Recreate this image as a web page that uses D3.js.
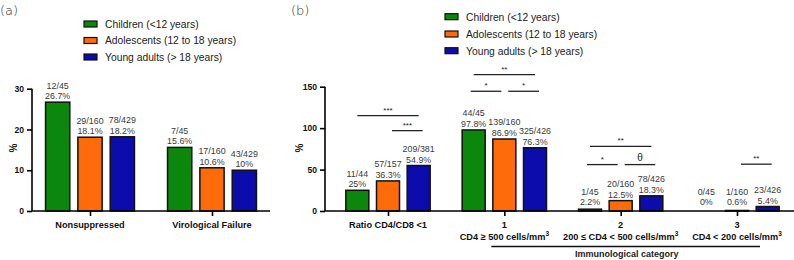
<!DOCTYPE html>
<html>
<head>
<meta charset="utf-8">
<script src="https://cdn.jsdelivr.net/npm/d3@7"></script>
<style>
  body { margin: 0; background: #fff; }
  svg { display: block; font-family: "Liberation Sans", Arial, sans-serif; }
</style>
</head>
<body>
<svg id="chart"></svg>
<script>
// ---- data ----
const groups = ["Children (<12 years)", "Adolescents (12 to 18 years)", "Young adults (> 18 years)"];
const groupColors = ["#0b870b", "#ff6a0a", "#0c0cad"];

// panel (a)
const catsA = ["Nonsuppressed", "Virological Failure"];
const valuesA = [[26.7, 18.1, 18.2], [15.6, 10.6, 10.0]];
const fracsA = [["12/45", "29/160", "78/429"], ["7/45", "17/160", "43/429"]];
const ticksA = [0, 10, 20, 30];

// panel (b)
const catsB = ["Ratio CD4/CD8 <1", "1", "2", "3"];
const subLabelsB = ["", "CD4 ≥ 500 cells/mm", "200  ≤ CD4 < 500 cells/mm", "CD4 < 200 cells/mm"];
const valuesB = [[25, 36.3, 54.9], [97.8, 86.9, 76.3], [2.2, 12.5, 18.3], [0, 0.6, 5.4]];
const fracsB = [["11/44", "57/157", "209/381"], ["44/45", "139/160", "325/426"],
                ["1/45", "20/160", "78/426"], ["0/45", "1/160", "23/426"]];
const pctB = [["25%", "36.3%", "54.9%"], ["97.8%", "86.9%", "76.3%"],
              ["2.2%", "12.5%", "18.3%"], ["0%", "0.6%", "5.4%"]];
const ticksB = [0, 50, 100, 150];
// significance brackets: category, from group, to group, label, level (%)
const sigB = [
  { cat: 0, a: 0, b: 2, label: "***", level: 115 },
  { cat: 0, a: 1, b: 2, label: "***", level: 97 },
  { cat: 1, a: 0, b: 2, label: "**", level: 164.5 },
  { cat: 1, a: 0, b: 1, label: "*", level: 144.5 },
  { cat: 1, a: 1, b: 2, label: "*", level: 144.5 },
  { cat: 2, a: 0, b: 2, label: "**", level: 78 },
  { cat: 2, a: 0, b: 1, label: "*", level: 56 },
  { cat: 2, a: 1, b: 2, label: "θ", level: 56 },
  { cat: 3, a: 1, b: 2, label: "**", level: 56.5 }
];

const width = 794, height = 260;
const svg = d3.select("#chart").attr("width", width).attr("height", height)
  .attr("viewBox", [0, 0, width, height]);

function fmtPct(v) { return (Math.round(v * 10) / 10) + "%"; }

function drawPanel(opt) {
  const g = svg.append("g");
  const y = d3.scaleLinear().domain(opt.yDomain).range([211, opt.yTop]);
  const xc = d3.scalePoint().domain(opt.cats).range(opt.centers);
  const xi = d3.scaleBand().domain(d3.range(3)).range([-opt.half, opt.half])
    .paddingInner(0.25).paddingOuter(0.125);
  const bw = xi.bandwidth();

  // bars
  opt.cats.forEach((c, ci) => {
    opt.values[ci].forEach((v, gi) => {
      if (v <= 0) return;
      g.append("rect")
        .attr("x", xc(c) + xi(gi)).attr("y", y(v))
        .attr("width", bw).attr("height", y(0) - y(v))
        .attr("fill", groupColors[gi]).attr("stroke", "#111").attr("stroke-width", 1.5);
    });
    // value labels
    opt.values[ci].forEach((v, gi) => {
      const base = Math.min(y(v), 208) - 3;
      const t = g.append("text").attr("text-anchor", "middle")
        .attr("font-size", 8.9).attr("fill", "#3a3a3a");
      const cx = xc(c) + xi(gi) + bw / 2;
      t.append("tspan").attr("x", cx).attr("y", base - 10.5).text(opt.fracs[ci][gi]);
      t.append("tspan").attr("x", cx).attr("y", base).text(opt.pcts ? opt.pcts[ci][gi] : fmtPct(v));
    });
  });

  // y axis
  const yAxis = d3.axisLeft(y).tickValues(opt.ticks).tickSize(5).tickPadding(3);
  const gy = g.append("g").attr("transform", `translate(${opt.axisX},0)`).call(yAxis);
  gy.select(".domain").attr("stroke-width", 1.6).attr("d", `M0,${y(opt.yDomain[1])}V${y(0)}`);
  gy.selectAll(".tick line").attr("stroke-width", 1.6);
  gy.selectAll(".tick text").attr("font-size", 8.6).attr("font-weight", "bold")
    .attr("font-family", "Liberation Sans, Arial, sans-serif").attr("fill", "#111");

  // x axis
  const xAxis = d3.axisBottom(xc).tickSize(5).tickFormat("");
  const gx = g.append("g").attr("transform", `translate(0,${y(0)})`).call(xAxis);
  gx.select(".domain").attr("stroke-width", 1.6).attr("d", `M${opt.axisX},0H${opt.axisEnd}`);
  gx.selectAll(".tick line").attr("stroke-width", 1.6);

  // category labels
  opt.cats.forEach((c, ci) => {
    g.append("text").attr("x", xc(c)).attr("y", opt.catY)
      .attr("text-anchor", "middle").attr("font-size", 9.2).attr("font-weight", "bold")
      .attr("fill", "#111").text(c);
    if (opt.subLabels && opt.subLabels[ci]) {
      const t = g.append("text").attr("x", xc(c)).attr("y", 240)
        .attr("text-anchor", "middle").attr("font-size", 9.2).attr("font-weight", "bold")
        .attr("fill", "#111").text(opt.subLabels[ci]);
      t.append("tspan").attr("dy", -4).attr("font-size", 6.5).text("3");
    }
  });

  // y label
  g.append("text").attr("transform", `translate(${opt.yLabelX},148) rotate(-90)`)
    .attr("text-anchor", "middle").attr("font-size", 10).attr("font-weight", "bold")
    .attr("fill", "#111").text("%");

  // legend
  groups.forEach((name, gi) => {
    const ly = opt.legendY[gi];
    g.append("rect").attr("x", opt.legendX).attr("y", ly - 3).attr("width", 13).attr("height", 6)
      .attr("fill", groupColors[gi]).attr("stroke", "#111").attr("stroke-width", 1.2);
    g.append("text").attr("x", opt.legendX + 21).attr("y", ly + 3.8)
      .attr("font-size", 10.3).attr("fill", "#222").text(name);
  });

  // panel letter
  g.append("text").attr("x", opt.letterX).attr("y", 15)
    .attr("font-family", "DejaVu Sans, sans-serif").attr("font-weight", 300)
    .attr("font-size", 13).attr("fill", "#333").text(opt.letter);

  return { g, y, xc, xi, bw };
}

drawPanel({
  cats: catsA, values: valuesA, fracs: fracsA, ticks: ticksA,
  yDomain: [0, 30], yTop: 88.7, centers: [90, 212], half: 48.5,
  axisX: 32, axisEnd: 270, catY: 227.5, yLabelX: 17,
  legendX: 84, legendY: [24, 40.5, 57], letter: "(a)", letterX: 0
});

const pb = drawPanel({
  cats: catsB, values: valuesB, fracs: fracsB, pcts: pctB, ticks: ticksB, subLabels: subLabelsB,
  yDomain: [0, 150], yTop: 86.7, centers: [388, 737], half: 46,
  axisX: 325, axisEnd: 794, catY: 227.5, yLabelX: 303,
  legendX: 445, legendY: [16.7, 34, 50.7], letter: "(b)", letterX: 291
});

// significance brackets
sigB.forEach(s => {
  const c = catsB[s.cat];
  let x1 = pb.xc(c) + pb.xi(s.a) + pb.bw / 2;
  let x2 = pb.xc(c) + pb.xi(s.b) + pb.bw / 2;
  if (s.b - s.a === 1) {
    const shift = s.a === 0 ? -3 : 4;
    x1 += shift; x2 += shift;
  }
  const yy = pb.y(s.level);
  pb.g.append("line").attr("x1", x1).attr("x2", x2).attr("y1", yy).attr("y2", yy)
    .attr("stroke", "#222").attr("stroke-width", 1.3);
  const isTheta = s.label === "θ";
  pb.g.append("text").attr("x", (x1 + x2) / 2).attr("y", isTheta ? yy - 4 : yy - 3)
    .attr("text-anchor", "middle").attr("font-size", isTheta ? 10 : 8)
    .attr("fill", "#222").text(s.label);
});

// immunological category underline
const cx1 = pb.xc("1"), cx3 = pb.xc("3");
pb.g.append("line").attr("x1", cx1 - 13).attr("x2", cx3 + 23).attr("y1", 246.5).attr("y2", 246.5)
  .attr("stroke", "#111").attr("stroke-width", 1.3);
pb.g.append("text").attr("x", (cx1 - 13 + cx3 + 23) / 2 + 1).attr("y", 257.2)
  .attr("text-anchor", "middle").attr("font-size", 9).attr("font-weight", "bold")
  .attr("fill", "#222").text("Immunological category");
</script>
</body>
</html>
